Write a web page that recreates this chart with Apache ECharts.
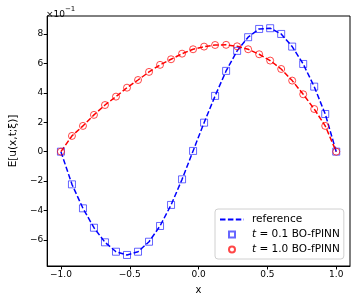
<!DOCTYPE html>
<html>
<head>
<meta charset="utf-8">
<script src="https://cdn.jsdelivr.net/npm/echarts@6/dist/echarts.min.js"></script>
<style>html,body{margin:0;padding:0;background:#fff}#c{width:357px;height:303px}</style>
</head>
<body>
<div id="c"></div>
<script>
// x grid of the BO-fPINN evaluation points
const xs = [-1.00,-0.92,-0.84,-0.76,-0.68,-0.60,-0.52,-0.44,-0.36,-0.28,-0.20,-0.12,-0.04,
            0.04,0.12,0.20,0.28,0.36,0.44,0.52,0.60,0.68,0.76,0.84,0.92,1.00];
// E[u(x,t;xi)] at t = 0.1
const u_t01 = [0.000,-0.222,-0.385,-0.517,-0.616,-0.680,-0.702,-0.680,-0.612,-0.505,-0.362,-0.188,0.005,
               0.197,0.379,0.549,0.685,0.778,0.834,0.839,0.800,0.714,0.596,0.442,0.256,0.000];
// E[u(x,t;xi)] at t = 1.0
const u_t10 = [0.000,0.107,0.175,0.250,0.317,0.374,0.435,0.487,0.542,0.590,0.628,0.666,0.696,
               0.714,0.725,0.726,0.716,0.696,0.662,0.619,0.562,0.483,0.390,0.290,0.175,0.000];
const xTicks = [-1.0,-0.5,0.0,0.5,1.0];
const yTicks = [-0.6,-0.4,-0.2,0.0,0.2,0.4,0.6,0.8];

const pairs = (ys) => xs.map((x,i)=>[x, ys[i]]);
const minus = s => s.replace('-', '\u2212');

const chart = echarts.init(document.getElementById('c'), null, {renderer:'canvas'});
const font = 'DejaVu Sans';
chart.setOption({
  animation:false,
  backgroundColor:'#fff',
  title:{
    text:'{a|\u00d710}{s|\u22121}',
    left:41, top:1,
    textStyle:{fontWeight:'normal',rich:{
      a:{fontFamily:font,fontSize:9,fontWeight:'normal',color:'#000',verticalAlign:'bottom',padding:[4,0,0,0]},
      s:{fontFamily:font,fontSize:7,fontWeight:'normal',color:'#000',verticalAlign:'top',padding:[0,0,4,0]}
    }}
  },
  grid:{left:42,right:7,top:16,bottom:37,show:true,borderColor:'#000',borderWidth:1,backgroundColor:'transparent'},
  xAxis:{
    type:'value', min:-1.1, max:1.1,
    axisLine:{show:true,onZero:false,lineStyle:{color:'#000',width:1}},
    axisTick:{show:true,inside:false,length:3.5,customValues:xTicks,lineStyle:{color:'#000'}},
    axisLabel:{customValues:xTicks,fontFamily:font,fontSize:9,color:'#000',margin:4,
      formatter:v=>minus(v.toFixed(1))},
    splitLine:{show:false},
    name:'x', nameLocation:'middle', nameGap:19,
    nameTextStyle:{fontFamily:font,fontSize:10,color:'#000'}
  },
  yAxis:{
    type:'value', min:-0.777, max:0.922,
    axisLine:{show:true,onZero:false,lineStyle:{color:'#000',width:1}},
    axisTick:{show:true,inside:false,length:3.5,customValues:yTicks,lineStyle:{color:'#000'}},
    axisLabel:{customValues:yTicks,fontFamily:font,fontSize:9,color:'#000',margin:4,
      formatter:v=>minus(String(Math.round(v*10)))},
    splitLine:{show:false},
    name:'E[u(x,t;\u03be)]', nameLocation:'middle', nameGap:25, nameRotate:90,
    nameTextStyle:{fontFamily:font,fontSize:10.5,color:'#000'}
  },
  legend:{
    orient:'vertical', left:215, top:209,
    padding:[5,4,4,4], itemGap:4, itemWidth:24, itemHeight:6,
    backgroundColor:'rgba(255,255,255,0.8)', borderColor:'#d0d0d0', borderWidth:1, borderRadius:3,
    textStyle:{fontFamily:font,fontSize:10.5,color:'#000',lineHeight:11,padding:[0,0,0,3],
      rich:{i:{fontFamily:font,fontSize:10.5,fontStyle:'italic',color:'#000'},
            n:{fontFamily:font,fontSize:10.5,color:'#000'}}},
    formatter:function(name){
      if(name.indexOf('t = ')===0){return '{i|t}{n|' + name.slice(1) + '}';}
      return name;
    },
    data:[
      {name:'reference', itemStyle:{color:'transparent',borderWidth:0,opacity:0}},
      {name:'t = 0.1 BO-fPINN', icon:'path://M0,0H10V10H0Z'},
      {name:'t = 1.0 BO-fPINN', icon:'circle'}
    ]
  },
  series:[
    {name:'reference', type:'line', data:pairs(u_t01), showSymbol:false, symbol:'none',
     lineStyle:{color:'#0000ff',width:1.5,type:[5.5,2.4]}, itemStyle:{color:'#0000ff'}, z:2},
    {name:'reference t=1.0', type:'line', data:pairs(u_t10), showSymbol:false, symbol:'none',
     lineStyle:{color:'#ff0000',width:1.5,type:[5.5,2.4]}, itemStyle:{color:'#ff0000'}, z:2},
    {name:'t = 0.1 BO-fPINN', type:'scatter', data:pairs(u_t01), symbol:'rect', symbolSize:7,
     itemStyle:{color:'transparent',borderColor:'rgba(0,0,255,0.75)',borderWidth:1}, z:3},
    {name:'t = 1.0 BO-fPINN', type:'scatter', data:pairs(u_t10), symbol:'circle', symbolSize:7,
     itemStyle:{color:'transparent',borderColor:'rgba(255,0,0,0.9)',borderWidth:1}, z:3}
  ]
});
</script>
</body>
</html>
